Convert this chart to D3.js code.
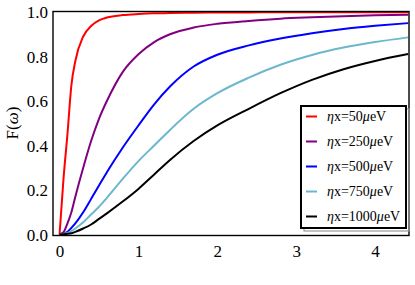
<!DOCTYPE html>
<html>
<head>
<meta charset="utf-8">
<script src="https://cdn.jsdelivr.net/npm/d3@7"></script>
<style>
  body { margin: 0; background: #fff; }
  svg text { font-family: 'Liberation Serif', 'Times New Roman', 'DejaVu Serif', serif; fill: #000; }
</style>
</head>
<body>
<script>
// sample positions along omega
var omega = [0, 0.05, 0.1, 0.15, 0.2, 0.3, 0.4, 0.5, 0.6, 0.8, 1.0, 1.2, 1.4, 1.7, 2.0, 2.4, 2.8, 3.2, 3.6, 4.0, 4.42];

// F(omega) for each eta_x
var f50   = [0, 0.25, 0.45, 0.67, 0.78, 0.89, 0.937, 0.962, 0.975, 0.986, 0.991, 0.994, 0.995, 0.997, 0.998, 0.998, 0.999, 0.999, 0.999, 0.999, 0.999];
var f250  = [0, 0.01, 0.05, 0.10, 0.17, 0.30, 0.42, 0.52, 0.60, 0.73, 0.81, 0.865, 0.90, 0.93, 0.947, 0.96, 0.970, 0.976, 0.981, 0.985, 0.988];
var f500  = [0, 0.003, 0.012, 0.03, 0.05, 0.10, 0.16, 0.22, 0.28, 0.39, 0.49, 0.585, 0.665, 0.755, 0.808, 0.85, 0.881, 0.905, 0.924, 0.938, 0.95];
var f750  = [0, 0.002, 0.007, 0.015, 0.027, 0.055, 0.09, 0.125, 0.165, 0.25, 0.33, 0.40, 0.47, 0.565, 0.635, 0.705, 0.763, 0.807, 0.84, 0.865, 0.886];
var f1000 = [0, 0.001, 0.003, 0.006, 0.012, 0.027, 0.045, 0.07, 0.095, 0.148, 0.205, 0.27, 0.335, 0.42, 0.49, 0.565, 0.635, 0.695, 0.743, 0.78, 0.811];

var labels = ["50", "250", "500", "750", "1000"];
var colors = ["#ff0000", "#800080", "#0000ff", "#6cb7cc", "#000000"];
var xTicks = [0, 1, 2, 3, 4];
var yTicks = [0, 0.2, 0.4, 0.6, 0.8, 1.0];

var serif = "'Liberation Serif', 'Times New Roman', 'DejaVu Serif', serif";

var series = [f50, f250, f500, f750, f1000].map(function(vals, i){
    return {
        name: labels[i],
        color: colors[i],
        points: omega.map(function(o, j){ return [o, vals[j]]; })
    };
});

var w = 415, h = 285;
var svg = d3.select("body").append("svg")
    .attr("width", w)
    .attr("height", h)
    .attr("font-family", serif);

//scales: frame spans x 53..409, y 11.5..235.5
var x = d3.scaleLinear().domain([-0.083, 4.43]).range([53, 409]);
var y = d3.scaleLinear().domain([0, 1]).range([234.5, 12]);

//clip so lines stay in the frame
svg.append("clipPath").attr("id", "plotclip")
    .append("rect")
    .attr("x", 53).attr("y", 11).attr("width", 356).attr("height", 224);

var line = d3.line()
    .x(function(d){ return x(d[0]); })
    .y(function(d){ return y(d[1]); })
    .curve(d3.curveMonotoneX);

svg.append("g")
    .attr("clip-path", "url(#plotclip)")
    .selectAll(".curve")
    .data(series)
    .enter()
    .append("path")
    .attr("class", "curve")
    .attr("d", function(d){ return line(d.points); })
    .style("fill", "none")
    .style("stroke", function(d){ return d.color; })
    .style("stroke-width", 2);

//frame
svg.append("rect")
    .attr("x", 53).attr("y", 11.5)
    .attr("width", 356).attr("height", 224)
    .style("fill", "none")
    .style("stroke", "#000")
    .style("stroke-width", 1.4);

//axes (labels only, no tick lines)
var xAxis = d3.axisBottom(x).tickValues(xTicks).tickSize(0).tickPadding(0)
    .tickFormat(d3.format("d"));
var gx = svg.append("g");
xAxis(gx);
gx.attr("font-family", serif).attr("font-size", 17);
gx.select(".domain").remove();
gx.selectAll("text")
    .attr("y", 256.5).attr("dy", null)
    .style("font-family", serif)
    .style("font-size", "17px");

var yAxis = d3.axisLeft(y).tickValues(yTicks).tickSize(0).tickPadding(0)
    .tickFormat(d3.format(".1f"));
var gy = svg.append("g").attr("transform", "translate(48,0)");
yAxis(gy);
gy.attr("font-family", serif).attr("font-size", 17);
gy.select(".domain").remove();
gy.selectAll("text")
    .attr("x", 0).attr("dy", "0.34em")
    .style("font-family", serif)
    .style("font-size", "17px");

//y axis title
var yt = svg.append("text")
    .attr("transform", "translate(18,123) rotate(-90)")
    .attr("text-anchor", "middle")
    .style("font-size", "17px");
yt.append("tspan").text("F(");
yt.append("tspan").style("font-style", "italic").text("\u03c9");
yt.append("tspan").text(")");

//legend with a grey drop shadow
var lg = svg.append("g").attr("class", "legend");
lg.append("rect")
    .attr("x", 304).attr("y", 109)
    .attr("width", 105).attr("height", 122)
    .style("fill", "none")
    .style("stroke", "#999")
    .style("stroke-width", 1.2);
lg.append("rect")
    .attr("x", 301).attr("y", 106)
    .attr("width", 105).attr("height", 122)
    .style("fill", "#fff")
    .style("stroke", "#000")
    .style("stroke-width", 2);

var items = lg.selectAll(".item")
    .data(series)
    .enter()
    .append("g")
    .attr("class", "item")
    .attr("transform", function(d, i){ return "translate(0," + (116.5 + i * 25) + ")"; });

items.append("line")
    .attr("x1", 306).attr("x2", 317)
    .style("stroke", function(d){ return d.color; })
    .style("stroke-width", 2);

var lt = items.append("text")
    .attr("x", 327).attr("dy", "0.35em")
    .style("font-size", "14px");
lt.append("tspan").style("font-style", "italic").text("\u03b7");
lt.append("tspan").text(function(d){ return "x=" + d.name; });
lt.append("tspan").style("font-style", "italic").text("\u03bc");
lt.append("tspan").text("eV");
</script>
</body>
</html>
